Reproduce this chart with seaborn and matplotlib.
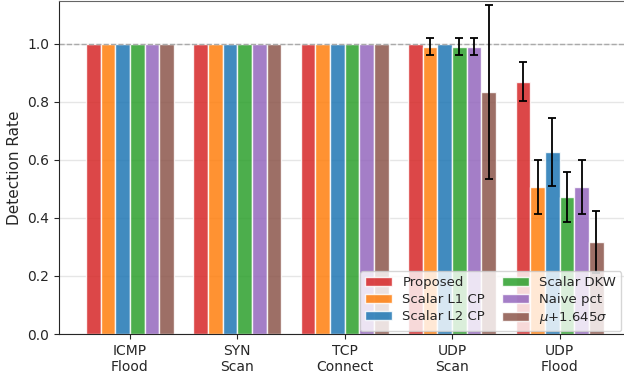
import numpy as np
import pandas as pd
import matplotlib
matplotlib.use("Agg")
import matplotlib.pyplot as plt
import seaborn as sns

attacks = ["ICMP\nFlood", "SYN\nScan", "TCP\nConnect", "UDP\nScan", "UDP\nFlood"]
methods = ["Proposed", "Scalar L1 CP", "Scalar L2 CP", "Scalar DKW", "Naive pct", r"$\mu$+1.645$\sigma$"]
colors = ["#d62728", "#ff7f0e", "#1f77b4", "#2ca02c", "#9467bd", "#8c564b"]

# detection rate per method, one value per attack
proposed = [1.0, 1.0, 1.0, 1.0, 0.87]
l1_cp = [1.0, 1.0, 1.0, 0.99, 0.507]
l2_cp = [1.0, 1.0, 1.0, 1.0, 0.628]
dkw = [1.0, 1.0, 1.0, 0.99, 0.473]
naive = [1.0, 1.0, 1.0, 0.99, 0.507]
musig = [1.0, 1.0, 1.0, 0.835, 0.317]

# half-width of error bars
proposed_err = [0, 0, 0, 0, 0.067]
l1_err = [0, 0, 0, 0.029, 0.093]
l2_err = [0, 0, 0, 0, 0.118]
dkw_err = [0, 0, 0, 0.029, 0.087]
naive_err = [0, 0, 0, 0.029, 0.093]
musig_err = [0, 0, 0, 0.30, 0.108]

values = [proposed, l1_cp, l2_cp, dkw, naive, musig]
errs = [proposed_err, l1_err, l2_err, dkw_err, naive_err, musig_err]

rows = []
for m, vals in zip(methods, values):
    for a, v in zip(attacks, vals):
        rows.append({"Attack": a, "Method": m, "Rate": v})
df = pd.DataFrame(rows)

sns.set_style("ticks")
plt.rcParams["font.family"] = ["DejaVu Sans"]

fig, ax = plt.subplots(figsize=(6.24, 3.77), dpi=100)
fig.subplots_adjust(left=59 / 624, right=1.0, top=1 - 1 / 377, bottom=1 - 334 / 377)

ax.yaxis.grid(True, color="#e6e6e6", linewidth=1)
ax.set_axisbelow(True)

sns.barplot(data=df, x="Attack", y="Rate", hue="Method", hue_order=methods,
            palette=colors, saturation=1, errorbar=None, alpha=0.85,
            edgecolor="white", linewidth=1, width=0.82, ax=ax)

for cont, e in zip(ax.containers, errs):
    xs = [p.get_x() + p.get_width() / 2 for p in cont.patches]
    hs = [p.get_height() for p in cont.patches]
    e = np.array(e)
    mask = e > 0
    ax.errorbar(np.array(xs)[mask], np.array(hs)[mask], yerr=e[mask], fmt="none",
                ecolor="black", elinewidth=1.3, capsize=3, capthick=1.3, zorder=5)

ax.axhline(1.0, color="#aaaaaa", linestyle="--", linewidth=1, zorder=1)

ax.set_xlim(-0.66, 4.6)
ax.set_ylim(0, 1.148)
ax.set_yticks([0.0, 0.2, 0.4, 0.6, 0.8, 1.0])
ax.set_xlabel("")
ax.set_ylabel("Detection Rate", fontsize=11)
ax.tick_params(labelsize=10)

ax.spines["top"].set_visible(True)
ax.spines["top"].set_color("#666666")
ax.spines["right"].set_visible(False)

ax.legend(loc="lower right", ncol=2, fontsize=9.5, framealpha=0.8,
          handlelength=2, columnspacing=1.3, borderaxespad=0.2,
          labelspacing=0.3)

plt.savefig("out.png", dpi=100)
